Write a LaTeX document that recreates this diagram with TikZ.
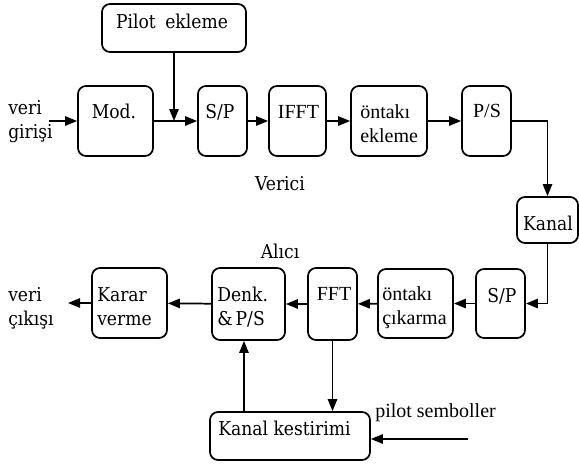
\documentclass[tikz,border=0pt]{standalone}
\usepackage{fontspec}
\newfontfamily\tms{Liberation Serif}
\newfontfamily\pal{DejaVu Serif Condensed}
\usetikzlibrary{arrows.meta}

\tikzset{
  blok/.style={draw, rounded corners=6pt, line width=1.3pt, inner sep=0pt},
  ok/.style={line width=1.3pt, -{Triangle[length=9pt,width=7pt]}},
  yazi/.style={font=\pal\fontsize{14.3}{18}\selectfont, inner sep=0pt, align=left},
  tyazi/.style={font=\tms\fontsize{15}{17.5}\selectfont, inner sep=0pt, align=left}
}

\begin{document}
\begin{tikzpicture}[x=0.75pt,y=-0.75pt]
\useasboundingbox (0,0) rectangle (579,465);
% Verici
\node[blok, minimum width=108pt, minimum height=36pt] (pilot) at (174,28) {};
\node[blok, minimum width=56.25pt, minimum height=52.5pt] (mod) at (115.5,121) {};
\node[blok, minimum width=36.75pt, minimum height=52.5pt] (sptx) at (222.5,121) {};
\node[blok, minimum width=42.75pt, minimum height=52.5pt] (ifft) at (297.5,121) {};
\node[blok, minimum width=57pt, minimum height=52.5pt] (cpekle) at (389,121) {};
\node[blok, minimum width=36.75pt, minimum height=52.5pt] (ps) at (486.5,121) {};
% Kanal
\node[blok, minimum width=45.75pt, minimum height=34.5pt] (kanal) at (547.5,220) {};
% Alici
\node[blok, minimum width=36.75pt, minimum height=51.75pt] (sprx) at (500.5,303.5) {};
\node[blok, minimum width=56.25pt, minimum height=51.75pt] (cpcikar) at (415.5,303.5) {};
\node[blok, minimum width=36.75pt, minimum height=54pt] (fft) at (332.5,304) {};
\node[blok, minimum width=54.75pt, minimum height=54pt] (denk) at (248.5,304) {};
\node[blok, minimum width=56.25pt, minimum height=52.5pt] (karar) at (129.5,303) {};
\node[blok, minimum width=120pt, minimum height=36pt] (kestir) at (290,436) {};
% Yazilar
\node[yazi, anchor=base] (pilotyazi) at (172,28) {Pilot\enspace ekleme};
\node[yazi, anchor=base west] (giris) at (8,138) {veri\\girişi};
\node[yazi, anchor=base] (modyazi) at (114,118) {Mod.};
\node[yazi, anchor=base] (sptxyazi) at (220,118) {S/P};
\node[tyazi, anchor=base] (ifftyazi) at (298.5,118) {IFFT};
\node[tyazi, anchor=base west] (cpekleyazi) at (360,142) {öntakı\\ekleme};
\node[tyazi, anchor=base] (psyazi) at (487,117) {P/S};
\node[yazi, anchor=base] (verici) at (280,190) {Verici};
\node[yazi, anchor=base] (kanalyazi) at (548,230) {Kanal};
\node[yazi, anchor=base] (alici) at (280,258) {Alıcı};
\node[yazi, anchor=base] (sprxyazi) at (502,302) {S/P};
\node[tyazi, anchor=base west] (cpcikaryazi) at (382,324) {öntakı\\çıkarma};
\node[tyazi, anchor=base] (fftyazi) at (334,300) {FFT};
\node[yazi, anchor=base west] (denkyazi) at (217,325) {Denk.\\\&\,P/S};
\node[yazi, anchor=base west] (kararyazi) at (97,325) {Karar\\verme};
\node[yazi, anchor=base west] (cikis) at (8,325) {veri\\çıkışı};
\node[yazi, anchor=base west] (kestiryazi) at (218,435) {Kanal kestirimi};
\node[tyazi, anchor=base west] (pilotsem) at (375,417) {pilot semboller};
% Oklar
\coordinate (girisok) at (49,121);
\coordinate (cikisok) at (68,303);
\coordinate (pilotok) at (468,439);
\draw[ok] (girisok) -- (mod);
\draw[ok] (mod) -- (sptx);
\draw[ok] (pilot.south) -- (pilot.south |- mod.east);
\draw[ok] (sptx) -- (ifft);
\draw[ok] (ifft) -- (cpekle);
\draw[ok] (cpekle) -- (ps);
\draw[ok] (ps.east) -| (kanal.north);
\draw[ok] (kanal.south) |- (sprx.east);
\draw[ok] (sprx) -- (cpcikar);
\draw[ok] (cpcikar) -- (fft);
\draw[ok] (fft) -- (denk);
\draw[ok] (denk) -- (karar);
\draw[ok] (karar.west) -- (cikisok);
\draw[ok] (fft.south) -- (fft.south |- kestir.north);
\draw[ok] ([xshift=-3.4pt]denk.south |- kestir.north) -- ([xshift=-3.4pt]denk.south);
\draw[ok] (pilotok) -- (pilotok -| kestir.east);
\end{tikzpicture}
\end{document}
